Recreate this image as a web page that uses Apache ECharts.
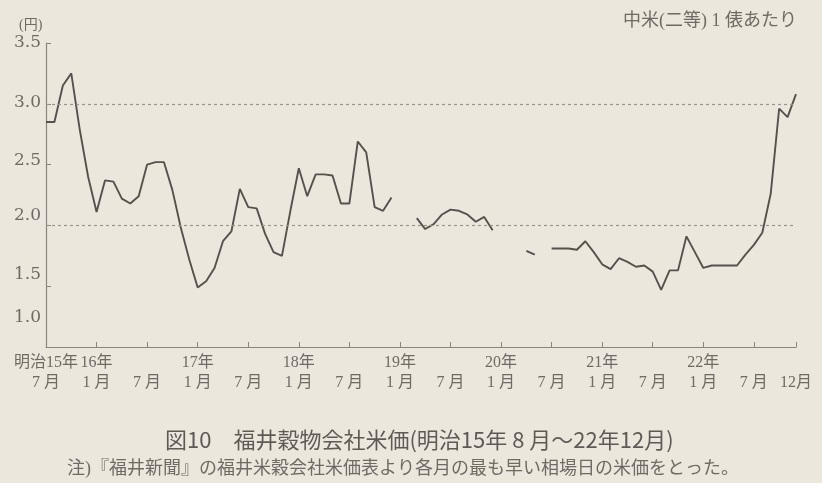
<!DOCTYPE html>
<html>
<head>
<meta charset="utf-8">
<script src="https://cdn.jsdelivr.net/npm/echarts@6/dist/echarts.min.js"></script>
<style>
  html, body { margin: 0; padding: 0; background: #ece7dd; }
  #chart { width: 822px; height: 483px; }
</style>
</head>
<body>
<div id="chart"></div>
<script>
// 明治15年7月 (index 0) から 22年12月 (index 89) までの月
var startYear = 15, startMonth = 7, monthCount = 90;

// 中米(二等)1俵あたり 円。null は欠測
var price = [
  2.85, 2.85, 3.15, 3.25, 2.79, 2.40,             // 15年 7-12月
  2.11, 2.37, 2.36, 2.22, 2.18, 2.24,             // 16年 1-6月
  2.50, 2.52, 2.52, 2.29, 1.98, 1.72,             // 16年 7-12月
  1.49, 1.54, 1.65, 1.87, 1.95, 2.30,             // 17年 1-6月
  2.15, 2.14, 1.93, 1.78, 1.75, 2.12,             // 17年 7-12月
  2.47, 2.24, 2.42, 2.42, 2.41, 2.18,             // 18年 1-6月
  2.18, 2.69, 2.60, 2.15, 2.12, 2.23,             // 18年 7-12月
  null, null, 2.06, 1.97, 2.01, 2.09,             // 19年 1-6月
  2.13, 2.12, 2.09, 2.03, 2.07, 1.96,             // 19年 7-12月
  null, null, null, 1.79, 1.76, null,             // 20年 1-6月
  1.81, 1.81, 1.81, 1.80, 1.87, 1.78,             // 20年 7-12月
  1.68, 1.64, 1.73, 1.70, 1.66, 1.67,             // 21年 1-6月
  1.62, 1.47, 1.63, 1.63, 1.91, 1.78,             // 21年 7-12月
  1.65, 1.67, 1.67, 1.67, 1.67, 1.76,             // 22年 1-6月
  1.84, 1.94, 2.26, 2.96, 2.89, 3.08              // 22年 7-12月
];

// 目盛の位置と目盛ラベル
var tickIndex = [0, 6, 12, 18, 24, 30, 36, 42, 48, 54, 60, 66, 72, 78, 84, 89];
var tickYear  = ['明治15年', '16年', '', '17年', '', '18年', '', '19年', '', '20年', '', '21年', '', '22年', '', ''];
var tickMonth = ['7 月', '1 月', '7 月', '1 月', '7 月', '1 月', '7 月', '1 月', '7 月', '1 月', '7 月', '1 月', '7 月', '1 月', '7 月', '12月'];

var refLines = [2.0, 3.0];
// 原図では y 軸ラベルが目盛より上にずれている (px)
var yLabelLift = { '1.0': 29, '1.5': 12, '2.0': 10, '2.5': 4, '3.0': 1, '3.5': 0 };

var months = [];
for (var i = 0; i < monthCount; i++) {
  var n = startMonth - 1 + i;
  months.push((startYear + Math.floor(n / 12)) + '年' + (n % 12 + 1) + '月');
}

var serif = "'Liberation Serif', 'Noto Sans CJK JP', serif";
var gray = '#6f6a64';

var yRich = {};
Object.keys(yLabelLift).forEach(function (k, i) {
  yRich['l' + i] = {
    fontFamily: "'DejaVu Serif', serif",
    fontSize: 17,
    color: gray,
    padding: [0, 0, yLabelLift[k] * 2, 0]
  };
});

var chart = echarts.init(document.getElementById('chart'));
chart.setOption({
  backgroundColor: '#ece7dd',
  animation: false,
  grid: { left: 46, right: 26, top: 43, bottom: 136 },
  title: [
    { text: '(円)', left: 14, top: 13,
      textStyle: { fontFamily: serif, fontSize: 14, fontWeight: 'normal', color: gray } },
    { text: '中米(二等) 1 俵あたり', right: 20, top: 7,
      textStyle: { fontFamily: serif, fontSize: 18, fontWeight: 'normal', color: gray } },
    { text: '図10　福井穀物会社米価(明治15年 8 月～22年12月)', left: 160, top: 424,
      textStyle: { fontFamily: "'Noto Sans CJK JP', sans-serif", fontSize: 22, fontWeight: 'normal', color: '#5f5a55' } },
    { text: '注)『福井新聞』の福井米穀会社米価表より各月の最も早い相場日の米価をとった。', left: 62, top: 455,
      textStyle: { fontFamily: serif, fontSize: 18, fontWeight: 'normal', color: gray } }
  ],
  xAxis: {
    type: 'category',
    data: months,
    boundaryGap: false,
    axisLine: { lineStyle: { color: '#8a857f', width: 1.2 } },
    axisTick: {
      inside: true, length: 5,
      interval: function (idx) { return tickIndex.indexOf(idx) >= 0; },
      lineStyle: { color: '#8a857f' }
    },
    axisLabel: {
      interval: function (idx) { return tickIndex.indexOf(idx) >= 0; },
      margin: 6,
      fontFamily: serif,
      fontSize: 16,
      lineHeight: 20,
      color: gray,
      formatter: function (v, idx) {
        var k = tickIndex.indexOf(idx);
        return tickYear[k] + '\n' + tickMonth[k];
      }
    },
    splitLine: { show: false }
  },
  yAxis: {
    type: 'value',
    min: 1.0, max: 3.5, interval: 0.5,
    axisLine: { show: true, lineStyle: { color: '#8a857f', width: 1.2 } },
    axisTick: { show: true, inside: true, length: 5, lineStyle: { color: '#8a857f' } },
    axisLabel: {
      margin: 5,
      formatter: function (v, idx) { return '{l' + idx + '|' + v.toFixed(1) + '}'; },
      rich: yRich
    },
    splitLine: { show: false }
  },
  series: [{
    type: 'line',
    data: price,
    showSymbol: false,
    connectNulls: false,
    lineStyle: { color: '#55514d', width: 1.9 },
    markLine: {
      silent: true,
      symbol: 'none',
      label: { show: false },
      lineStyle: { color: '#9a948d', type: [3, 3], width: 1.2 },
      data: refLines.map(function (v) { return { yAxis: v }; })
    }
  }]
});
</script>
</body>
</html>
